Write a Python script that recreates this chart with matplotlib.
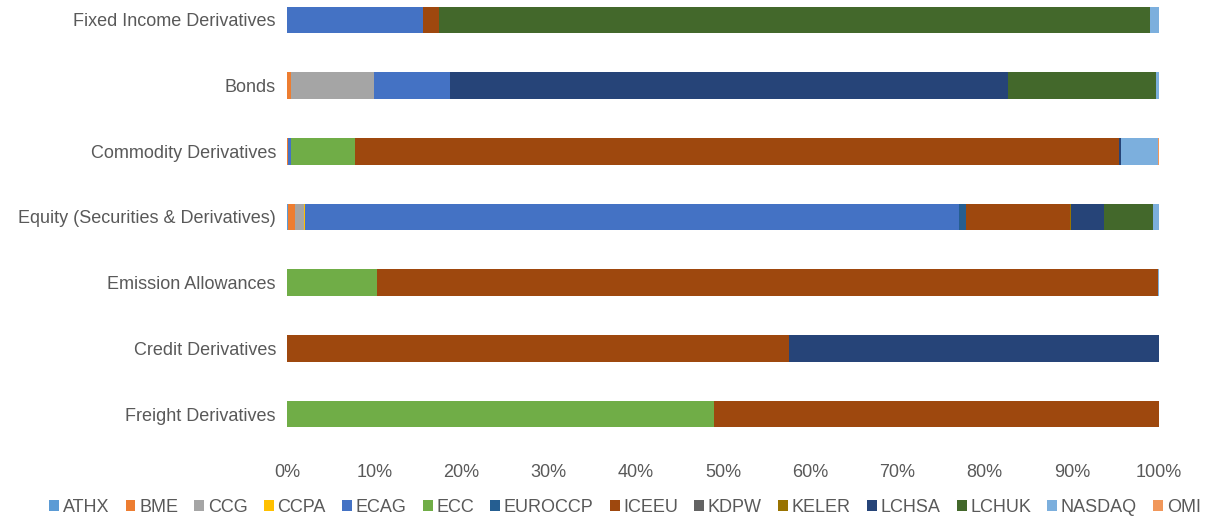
import matplotlib
matplotlib.use("Agg")
import matplotlib.pyplot as plt
from matplotlib.ticker import PercentFormatter, MultipleLocator
import numpy as np

categories = ["Freight Derivatives", "Credit Derivatives", "Emission Allowances",
              "Equity (Securities & Derivatives)", "Commodity Derivatives", "Bonds",
              "Fixed Income Derivatives"]
series = ["ATHX", "BME", "CCG", "CCPA", "ECAG", "ECC", "EUROCCP", "ICEEU",
          "KDPW", "KELER", "LCHSA", "LCHUK", "NASDAQ", "OMI"]
colors = ["#5B9BD5", "#ED7D31", "#A5A5A5", "#FFC000", "#4472C4", "#70AD47", "#255E91",
          "#9E480E", "#636363", "#997300", "#264478", "#43682B", "#7CAFDD", "#F1975A"]

# values (%) per series, in the order of categories (bottom to top)
ATHX    = [0.0, 0.0, 0.0, 0.15, 0.0, 0.0, 0.0]
BME     = [0.0, 0.0, 0.0, 0.8, 0.1, 0.5, 0.0]
CCG     = [0.0, 0.0, 0.0, 1.0, 0.0, 9.5, 0.0]
CCPA    = [0.0, 0.0, 0.0, 0.15, 0.0, 0.0, 0.0]
ECAG    = [0.0, 0.0, 0.0, 75.0, 0.4, 8.7, 15.6]
ECC     = [49.0, 0.0, 10.3, 0.0, 7.3, 0.0, 0.0]
EUROCCP = [0.0, 0.0, 0.0, 0.8, 0.0, 0.0, 0.0]
ICEEU   = [51.0, 57.6, 89.6, 11.9, 87.6, 0.0, 1.8]
KDPW    = [0.0, 0.0, 0.0, 0.0, 0.0, 0.0, 0.0]
KELER   = [0.0, 0.0, 0.0, 0.1, 0.0, 0.0, 0.0]
LCHSA   = [0.0, 42.4, 0.0, 3.8, 0.2, 64.0, 0.0]
LCHUK   = [0.0, 0.0, 0.0, 5.6, 0.0, 17.0, 81.6]
NASDAQ  = [0.0, 0.0, 0.1, 0.8, 4.3, 0.3, 1.0]
OMI     = [0.0, 0.0, 0.0, 0.0, 0.2, 0.0, 0.0]

values = [ATHX, BME, CCG, CCPA, ECAG, ECC, EUROCCP, ICEEU, KDPW, KELER, LCHSA, LCHUK, NASDAQ, OMI]

plt.rcParams['font.family'] = ['Liberation Sans', 'DejaVu Sans']

fig = plt.figure(figsize=(12.22, 5.2), dpi=100)
ax = fig.add_axes([287/1222, 1-447/520, (1159-287)/1222, 447/520])

y = np.arange(len(categories))
left = np.zeros(len(categories))
for name, col, vals in zip(series, colors, values):
    v = np.array(vals) / 100.0
    ax.barh(y, v, left=left, height=0.41, color=col, label=name, linewidth=0)
    left += v

ax.set_xlim(0, 1.0)
ax.set_ylim(-0.502, 6.304)
ax.set_yticks(y)
ax.set_yticklabels(categories)
ax.xaxis.set_major_locator(MultipleLocator(0.1))
ax.xaxis.set_major_formatter(PercentFormatter(1.0, decimals=0))
for s in ax.spines.values():
    s.set_visible(False)
ax.tick_params(axis='both', length=0, colors='#595959', labelsize=13)
ax.tick_params(axis='x', pad=12)
ax.tick_params(axis='y', pad=8)

leg = fig.legend(loc='center', bbox_to_anchor=(625/1222, 1-507/520), ncol=14, frameon=False,
                 handlelength=0.55, handleheight=0.55, handletextpad=0.2, columnspacing=0.9,
                 fontsize=13)
for t in leg.get_texts():
    t.set_color('#595959')

fig.savefig("out.png", dpi=100)
